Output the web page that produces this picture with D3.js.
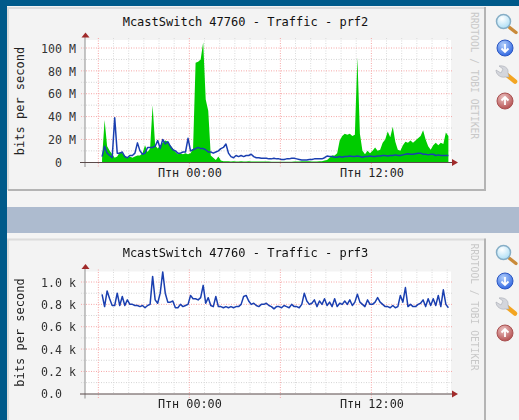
<!DOCTYPE html>
<html>
<head>
<meta charset="utf-8">
<script src="https://cdn.jsdelivr.net/npm/d3@7/dist/d3.min.js"></script>
<style>
html,body{margin:0;padding:0;background:#f4f4f4;overflow:hidden}
svg{display:block;filter:blur(0.5px)}
text{font-family:"DejaVu Sans Mono",monospace;white-space:pre}
</style>
</head>
<body>
<svg id="c" width="519" height="420"></svg>
<script>
const title1 = "McastSwitch 47760 - Traffic - prf2";
const title2 = "McastSwitch 47760 - Traffic - prf3";
const yAxisTitle = "bits per second";
const watermark = "RRDTOOL / TOBI OETIKER";
const startHour = -5.755;
const stepHour = 1 / 6;
const timeLabels = [[0, "Птн 00:00"], [12, "Птн 12:00"]];
const majorHours = [-6, 0, 6, 12];
const minorHours = [-5,-4,-3,-2,-1,1,2,3,4,5,7,8,9,10,11,13,14,15,16,17];

const prf2Majors = [20,40,60,80,100];
const prf2Minors = [10,30,50,70,90];
const prf2Labels = ["0  ","20 M","40 M","60 M","80 M","100 M"];
const prf2Ticks = [0,20,40,60,80,100];
const prf2In = [
3,37,14,10,7,4,5,9,8,6,
4,5,4,5,6,6,8,15,9,12,
50,15,12,15,17,19,18,15,12,9,
7,8,7,8,7,8,12,87,88,90,
105,55,45,6,4,2,5,1.5,1,1,
1,0.8,1,0.8,0.8,1,0.8,0.8,1,0.8,
0.8,0.7,0.7,0.7,0.6,0.6,0.6,0.5,0.5,0.5,
0.5,0.5,0.5,0.5,0.5,0.5,0.6,0.6,0.8,1,
1,1,1,0.8,0.8,0.8,1,1,1.5,2,
4,6,6,8,19,23,25,24,25,23,
24,92,25,10,7,10,8,10,13,10,
11,17,20,27,22,31,18,11,10,15,
18,17,19,17,19,21,23,28,20,14,
11,15,17,15,17,16,26,23];
const prf2Out = [
5,14,8,6,4,39,8,8,9,5,
4,6,6,8,17,10,7,8,13,13,
13,14,19,12,20,16,18,14,11,10,
8,8,9,9,21,10,11,12,13,12,
12,11,9,9,8,9,10,12,13,16,
8,5,4,6,5,6,5,6,6,7,
5,4,4,3.5,3.5,3.5,3,3,3.5,3,
3,2.5,2.5,3,3,3.5,3.5,3,2.5,2,
2,2,2.5,2.5,3,3,3,3,4,5.5,
5,5,4.5,4.5,5,4.5,5,5,5.5,5,
5,5.5,5,4.5,5,5,5.5,5,5,5.5,
5.5,6,6,5.5,6,6,6.5,6,6,6.5,
7,7.5,7,7,7.5,8,8,7,7,6.5,
7,7,6,6.5,6,6,6,6];

const prf3Majors = [0.2,0.4,0.6,0.8,1.0];
const prf3Minors = [0.1,0.3,0.5,0.7,0.9];
const prf3Labels = ["0.0  ","0.2 k","0.4 k","0.6 k","0.8 k","1.0 k"];
const prf3Ticks = [0,0.2,0.4,0.6,0.8,1.0];
const prf3Out = [
.89,.78,.92,.85,.79,.79,.90,.79,.87,.79,
.84,.80,.80,.79,.79,.78,.79,.77,.79,.80,
1.05,.84,.81,.90,1.09,.90,.82,.82,.83,.77,
.77,.80,.78,.79,.80,.88,.85,.85,.84,.86,
.97,.81,.86,.79,.78,.87,.78,.78,.77,.78,
.77,.78,.77,.78,.78,.80,.87,.88,.83,.80,
.81,.79,.78,.80,.80,.81,.79,.78,.76,.78,
.78,.77,.79,.78,.77,.80,.78,.78,.77,.80,
.90,.83,.80,.81,.84,.78,.83,.80,.85,.79,
.82,.78,.85,.78,.81,.80,.83,.80,.84,.79,
.82,.89,.82,.80,.78,.84,.80,.80,.82,.86,
.82,.80,.78,.78,.77,.79,.77,.78,.88,.82,
.95,.78,.80,.78,.78,.80,.81,.84,.78,.85,
.79,.85,.79,.88,.78,.93,.80,.77];

const svg = d3.select("#c");

// page furniture
svg.append("rect").attr("x",-3).attr("y",-3).attr("width",525).attr("height",9).attr("fill","#005a8a");
svg.append("rect").attr("x",-3).attr("y",-3).attr("width",10).attr("height",426).attr("fill","#005a8a");
svg.append("rect").attr("x",7).attr("y",207).attr("width",515).attr("height",26).attr("fill","#adbbcf");

const defs = svg.append("defs");
function radial(id, a, b){
  const g = defs.append("radialGradient").attr("id",id).attr("cx","40%").attr("cy","30%").attr("r","75%");
  g.append("stop").attr("offset","0%").attr("stop-color",a);
  g.append("stop").attr("offset","100%").attr("stop-color",b);
}
radial("gBlue","#b4d0fb","#2a62e0");
radial("gRed","#ecc4c4","#b24a4a");
radial("gLens","#ffffff","#a8dcf5");

function icons(g, ys){
  const m = g.append("g").attr("transform",`translate(505,${ys[0]})`);
  m.append("line").attr("x1",4).attr("y1",4).attr("x2",11).attr("y2",9.5).attr("stroke","#c98a3a").attr("stroke-width",3.4).attr("stroke-linecap","round");
  m.append("circle").attr("r",7).attr("cx",-1.5).attr("cy",-1.5).attr("fill","url(#gLens)").attr("stroke","#86aec6").attr("stroke-width",1.5);
  const d = g.append("g").attr("transform",`translate(505,${ys[1]})`);
  d.append("circle").attr("r",8).attr("fill","url(#gBlue)").attr("stroke","#2a55c0");
  d.append("path").attr("d","M0,-4V4M-3.5,0.5L0,4L3.5,0.5").attr("fill","none").attr("stroke","#fff").attr("stroke-width",1.8);
  const w = g.append("g").attr("transform",`translate(505,${ys[2]})`);
  w.append("line").attr("x1",2).attr("y1",1).attr("x2",10).attr("y2",7.5).attr("stroke","#f3a522").attr("stroke-width",4.6).attr("stroke-linecap","round");
  w.append("path").attr("d","M-9,-4 L-4,-1 L-2,-5 L-6,-8 C-1,-9 4,-6 3,-1 L4,3 L0,3 C-4,4 -9,1 -9,-4Z").attr("fill","#d4d6dc").attr("stroke","#a8abb4").attr("stroke-width",0.6);
  const u = g.append("g").attr("transform",`translate(505,${ys[3]})`);
  u.append("circle").attr("r",8).attr("fill","url(#gRed)").attr("stroke","#a85050");
  u.append("path").attr("d","M0,4V-4M-3.5,-0.5L0,-4L3.5,-0.5").attr("fill","none").attr("stroke","#fff").attr("stroke-width",1.8);
}

function panel(o){
  const g = svg.append("g").attr("transform",`translate(0,${o.dy})`);
  g.append("rect").attr("x",7).attr("y",6).attr("width",479).attr("height",o.frameH).attr("fill","#f3f3f3");
  g.append("path").attr("d",`M8,${6+o.frameH-1}V8H484`).attr("fill","none").attr("stroke","#dcdcdc").attr("stroke-width",2);
  g.append("path").attr("d",`M485,7V${6+o.frameH-1}H8`).attr("fill","none").attr("stroke","#b4b4b4").attr("stroke-width",2);

  const x = d3.scaleLinear().domain([-6.88,17.25]).range([85,451]);
  const y = d3.scaleLinear().domain(o.yDomain).range([162.3,40]);

  g.append("rect").attr("x",85).attr("y",40).attr("width",366).attr("height",122.3).attr("fill","#fff");

  const hl = (vals,col) => g.append("g").selectAll("line").data(vals).join("line")
    .attr("x1",81).attr("x2",452).attr("y1",d=>y(d)).attr("y2",d=>y(d))
    .attr("stroke",col).attr("stroke-width",1).attr("stroke-dasharray","1,1.5");
  const vl = (vals,col,y2) => g.append("g").selectAll("line").data(vals).join("line")
    .attr("x1",d=>x(d)).attr("x2",d=>x(d)).attr("y1",38).attr("y2",y2)
    .attr("stroke",col).attr("stroke-width",1).attr("stroke-dasharray","1,1.5");
  hl(o.minors,"#d4d4d4");
  vl(minorHours,"#dadada",163);
  hl(o.majors,"#f6a6a6");
  vl(majorHours,"#f6a6a6",167);

  const t = i => startHour + i*stepHour;
  if(o.area){
    g.append("path").datum(o.area)
      .attr("fill","#00cc00")
      .attr("d",d3.area().x((d,i)=>x(t(i))).y0(y(0)).y1(d=>y(d)));
  }
  g.append("path").datum(o.line)
    .attr("fill","none").attr("stroke","#1a3fb0").attr("stroke-width",o.lw).attr("stroke-linejoin","round")
    .attr("d",d3.line().x((d,i)=>x(t(i))).y(d=>y(d)));

  const yAxis = d3.axisLeft(y).tickValues(o.ticks).tickSize(0).tickPadding(9)
    .tickFormat((d,i)=>o.labels[i]);
  const ya = g.append("g").attr("transform","translate(85,0)").call(yAxis);
  ya.select(".domain").remove();
  ya.selectAll("text").attr("font-size","11.6px").attr("fill","#333").attr("dy","0.36em")
    .attr("font-family","DejaVu Sans Mono");

  const xAxis = d3.axisBottom(x).tickValues(timeLabels.map(d=>d[0])).tickSize(0).tickPadding(6)
    .tickFormat((d,i)=>timeLabels[i][1]);
  const xa = g.append("g").attr("transform","translate(0,162.3)").call(xAxis);
  xa.select(".domain").remove();
  xa.selectAll("text").attr("font-size","11.8px").attr("fill","#222").attr("font-family","DejaVu Sans Mono");

  g.append("line").attr("x1",85).attr("x2",85).attr("y1",37).attr("y2",167).attr("stroke","#a0a0a0").attr("stroke-width",1.2);
  g.append("line").attr("x1",80).attr("x2",453).attr("y1",162.5).attr("y2",162.5).attr("stroke","#5a4a4a").attr("stroke-width",1.1);
  g.append("path").attr("d","M81.5,37.5L85.5,32.5L89.5,37.5Z").attr("fill","#a02a2a");
  g.append("path").attr("d","M452,159L458,162.5L452,166Z").attr("fill","#a02a2a");

  g.append("text").attr("x",245.5).attr("y",25.5).attr("text-anchor","middle").attr("font-size","12px").attr("fill","#111").text(o.title);
  g.append("text").attr("transform","translate(24,101) rotate(-90)").attr("text-anchor","middle").attr("font-size","12px").attr("fill","#222").text(yAxisTitle);
  g.append("text").attr("transform","translate(471,12) rotate(90)").attr("font-size","9.6px").attr("fill","#c8c8c8").text(watermark);
}

panel({dy:0,frameH:185,yDomain:[0,107],title:title1,majors:prf2Majors,minors:prf2Minors,
  ticks:prf2Ticks,labels:prf2Labels,area:prf2In,line:prf2Out,lw:1.5});
panel({dy:231.5,frameH:200,yDomain:[0,1.094],title:title2,majors:prf3Majors,minors:prf3Minors,
  ticks:prf3Ticks,labels:prf3Labels,area:null,line:prf3Out,lw:1.5});

icons(svg.append("g"),[23,48,74,101]);
icons(svg.append("g"),[254,281,306,333]);
</script>
</body>
</html>
